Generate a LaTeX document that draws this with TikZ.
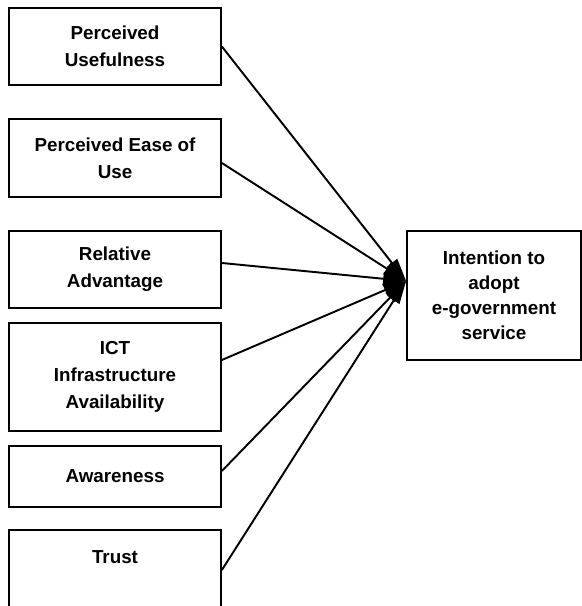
\documentclass[tikz,border=0pt]{standalone}
\usepackage{fontspec}
\setmainfont{Liberation Sans}
\usepackage{tikz}
\usetikzlibrary{calc,arrows.meta,positioning}

\begin{document}
\begin{tikzpicture}

\tikzset{factor/.style={font=\fontsize{10.7}{15.2}\selectfont\bfseries,draw=black,line width=1pt,align=center,minimum width=4.24cm,inner sep=0pt},
target/.style={font=\fontsize{10.7}{14.2}\selectfont\bfseries,draw=black,line width=1pt,align=center,minimum width=3.48cm,minimum height=2.58cm,inner sep=0pt},
link/.style={line width=1.1pt,-{Triangle[length=4.6mm,width=2.6mm]}}}

\useasboundingbox (0,0) rectangle (11.64,12.12);

% Factors
\node[factor,minimum height=1.54cm] (pu) at (2.3,11.19) {Perceived\\Usefulness};
\node[factor,minimum height=1.56cm] (peou) at (2.3,8.96) {Perceived Ease of\\Use};
\node[factor,minimum height=1.54cm] (ra) at (2.3,6.73) {Relative\\Advantage};
\node[factor,minimum height=2.16cm] (ict) at (2.3,4.58) {ICT\\Infrastructure\\Availability};
\node[factor,minimum height=1.22cm] (aw) at (2.3,2.59) {Awareness};
\node[factor,minimum height=1.6cm] (tr) at (2.3,0.72) {Trust\\~};

% Intention
\node[target] (intent) at (9.88,6.21) {Intention to\\adopt\\e-government\\service};
\coordinate (hub) at ($(intent.west)+(0,0.29)$);

% Edges
\draw[link] (pu.east) -- (hub);
\draw[link] ([yshift=-0.1cm]peou.east) -- (hub);
\draw[link] ([yshift=0.13cm]ra.east) -- (hub);
\draw[link] ([yshift=0.34cm]ict.east) -- (hub);
\draw[link] ([yshift=0.11cm]aw.east) -- (hub);
\draw[link] (tr.east) -- (hub);

\end{tikzpicture}
\end{document}
